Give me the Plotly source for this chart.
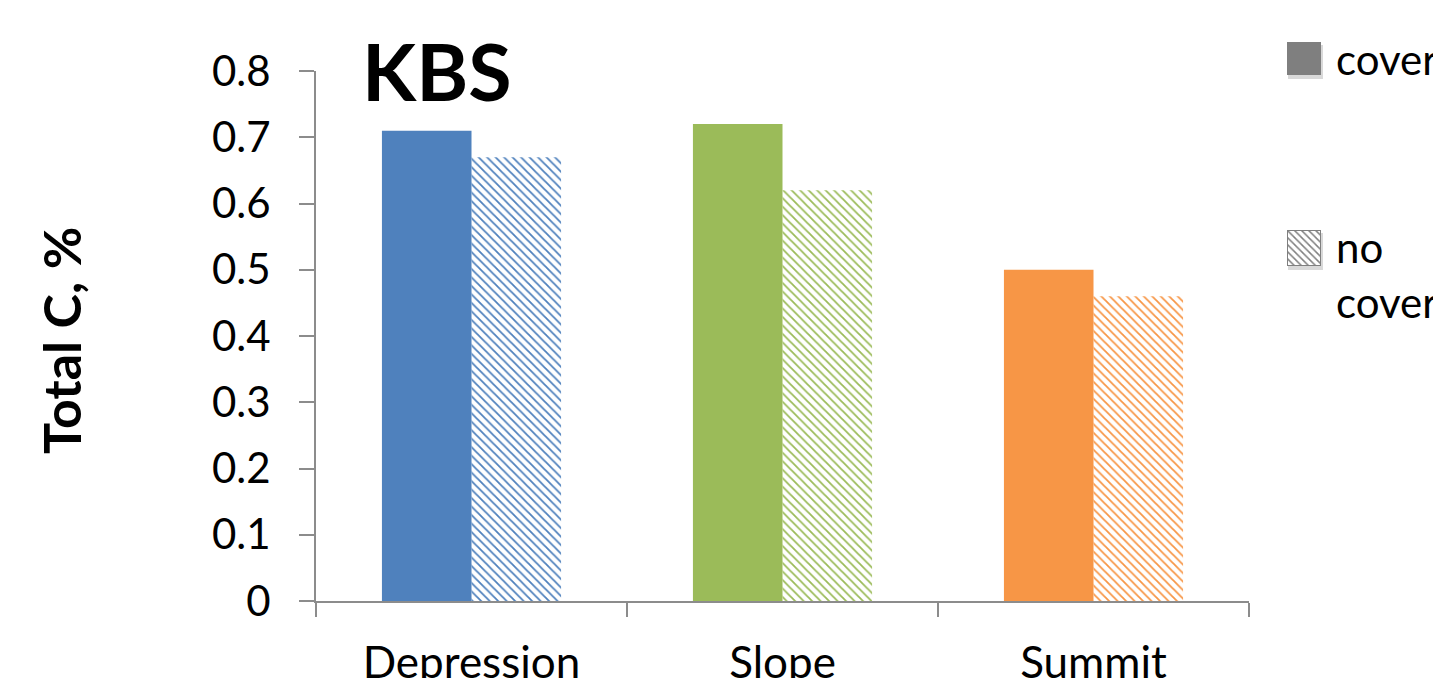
import plotly.graph_objects as go

# Data
positions = ["Depression", "Slope", "Summit"]
cover = [0.71, 0.72, 0.50]
no_cover = [0.67, 0.62, 0.46]
bar_colors = ["#4F81BD", "#9BBB59", "#F79646"]
y_ticks = [0, 0.1, 0.2, 0.3, 0.4, 0.5, 0.6, 0.7, 0.8]
y_tick_text = ["0", "0.1", "0.2", "0.3", "0.4", "0.5", "0.6", "0.7", "0.8"]

W, H = 1433, 678
M_L, M_R, M_T, M_B = 316, 0, 0, 77
PW, PH = W - M_L - M_R, H - M_T - M_B


def px_x(x):
    return (x - M_L) / PW


def px_y(y):
    return (H - M_B - y) / PH


FONT = "Lato"
GRAY_AXIS = "#8C8C8C"
LEGEND_GRAY = "#7F7F7F"

fig = go.Figure()

fig.add_trace(go.Bar(
    x=positions, y=cover, name="cover",
    marker=dict(color=bar_colors, line=dict(width=0)),
    showlegend=False, xaxis="x", yaxis="y",
))
fig.add_trace(go.Bar(
    x=positions, y=no_cover, name="no cover",
    marker=dict(
        color=bar_colors, line=dict(width=0),
        pattern=dict(shape="\\", fillmode="replace", bgcolor="white",
                     size=6, solidity=0.3),
    ),
    showlegend=False, xaxis="x", yaxis="y",
))

# Legend swatches drawn on small hidden axes
fig.add_trace(go.Bar(
    x=[0], y=[1], width=[1], marker=dict(color=LEGEND_GRAY, line=dict(width=0)),
    showlegend=False, hoverinfo="skip", xaxis="x2", yaxis="y2",
))
fig.add_trace(go.Bar(
    x=[0], y=[1], width=[1],
    marker=dict(color=LEGEND_GRAY, line=dict(width=2, color=LEGEND_GRAY),
                pattern=dict(shape="\\", fillmode="replace", bgcolor="white",
                             size=5, solidity=0.3)),
    showlegend=False, hoverinfo="skip", xaxis="x3", yaxis="y3",
))

sw_x = [px_x(1287), px_x(1321)]
hidden = dict(visible=False, fixedrange=True)

# soft shadows under the legend swatches
shapes = []
for (top, bot) in [(42, 75), (230, 266)]:
    shapes.append(dict(
        type="rect", xref="paper", yref="paper", layer="below",
        x0=px_x(1288), x1=px_x(1323), y0=px_y(bot + 4), y1=px_y(top + 3),
        fillcolor="rgba(0,0,0,0.15)", line=dict(width=0),
    ))

fig.update_layout(
    width=W, height=H,
    margin=dict(l=M_L, r=M_R, t=M_T, b=M_B, autoexpand=False),
    paper_bgcolor="white", plot_bgcolor="white",
    barmode="group", bargap=0.424, bargroupgap=0,
    font=dict(family=FONT, color="black", size=42),
    xaxis=dict(
        domain=[0, px_x(1249)], type="category", range=[-0.5, 2.5],
        showline=True, linecolor=GRAY_AXIS, linewidth=2,
        ticks="outside", tickson="boundaries", ticklen=14, tickwidth=2,
        tickcolor=GRAY_AXIS, tickfont=dict(family=FONT, size=44, color="black"),
        ticklabelstandoff=22, showgrid=False, zeroline=False, fixedrange=True,
        automargin=False,
    ),
    yaxis=dict(
        domain=[0, px_y(71)], range=[0, 0.8],
        tickvals=y_ticks, ticktext=y_tick_text,
        showline=True, linecolor=GRAY_AXIS, linewidth=2,
        ticks="outside", ticklen=15, tickwidth=2, tickcolor=GRAY_AXIS,
        tickfont=dict(family=FONT, size=42, color="black"),
        ticklabelstandoff=20, showgrid=False, zeroline=False, fixedrange=True,
        automargin=False,
    ),
    xaxis2=dict(domain=sw_x, range=[-0.5, 0.5], anchor="y2", **hidden),
    yaxis2=dict(domain=[px_y(75), px_y(42)], range=[0, 1], anchor="x2", **hidden),
    xaxis3=dict(domain=sw_x, range=[-0.5, 0.5], anchor="y3", **hidden),
    yaxis3=dict(domain=[px_y(266), px_y(230)], range=[0, 1], anchor="x3", **hidden),
    shapes=shapes,
    annotations=[
        dict(text="<b>KBS</b>", xref="paper", yref="paper",
             x=px_x(437), y=px_y(70), xanchor="center", yanchor="middle",
             showarrow=False, font=dict(family=FONT, size=79, color="black")),
        dict(text="<b>Total C, %</b>", xref="paper", yref="paper",
             x=px_x(61), y=px_y(341), xanchor="center", yanchor="middle",
             textangle=-90, showarrow=False,
             font=dict(family=FONT, size=52, color="black")),
        dict(text="cover", xref="paper", yref="paper",
             x=px_x(1334), y=px_y(59), xanchor="left", yanchor="middle",
             showarrow=False, align="left",
             font=dict(family=FONT, size=42, color="black")),
        dict(text="no<br>cover", xref="paper", yref="paper",
             x=px_x(1334), y=px_y(274), xanchor="left", yanchor="middle",
             showarrow=False, align="left",
             font=dict(family=FONT, size=42, color="black")),
    ],
    showlegend=False,
)

fig.write_html("out.html")
